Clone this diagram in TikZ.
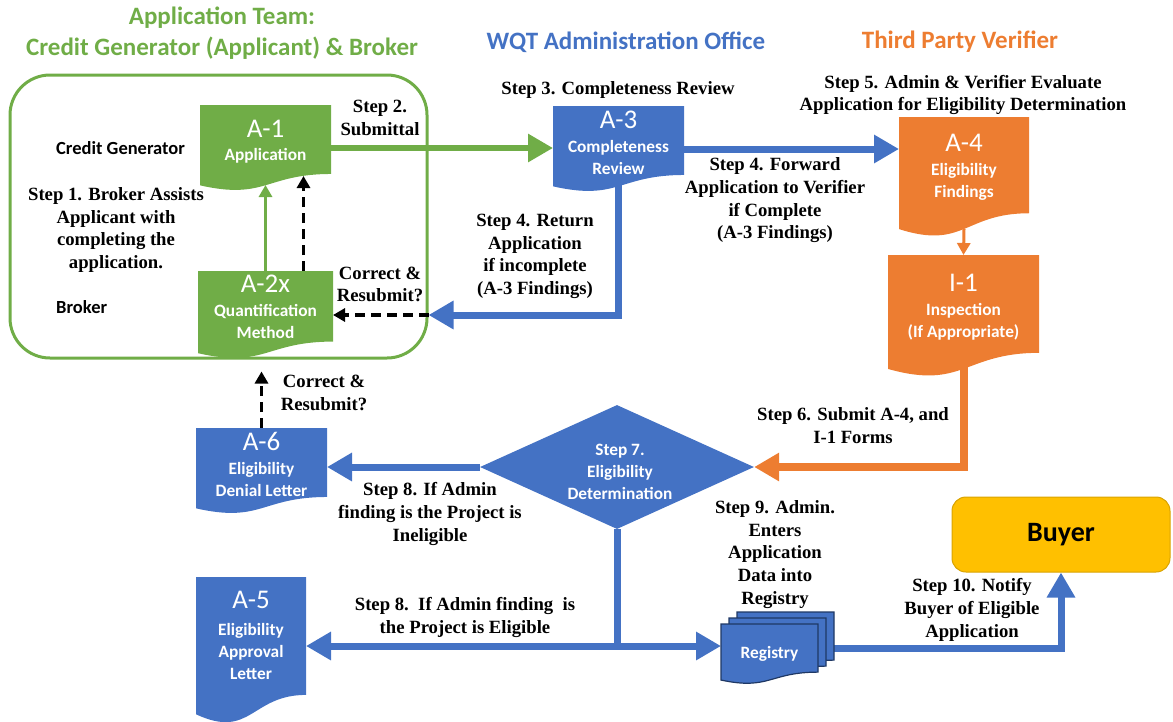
\documentclass[tikz,border=0pt]{standalone}
\usepackage{fontspec}
\setmainfont{Liberation Serif}
\newfontfamily\calib{Carlito}
\usetikzlibrary{arrows.meta,shapes.geometric,calc}
\definecolor{cgreen}{HTML}{70AD47}
\definecolor{cblue}{HTML}{4472C4}
\definecolor{corange}{HTML}{ED7D31}
\definecolor{cyellow}{HTML}{FFC000}
\definecolor{cyeldark}{HTML}{D9A300}
\definecolor{cbluedark}{HTML}{1F3864}
\newcommand\docfill[2]{%
  \path[#2] (#1.north west) -- (#1.north east) -- ($(#1.north east)!0.802!(#1.south east)$)
    .. controls ($(#1.north)!0.802!(#1.south)$) and ($(#1.north)!1.1075!(#1.south)$)
    .. ($(#1.north west)!0.934!(#1.south west)$) -- cycle;}
\tikzset{
  docbox/.style={inner sep=0pt, outer sep=0pt},
  big/.style={font=\calib\fontsize{27}{30}\selectfont, text=white, inner sep=0pt},
  sub/.style={font=\calib\bfseries\fontsize{17.3}{22}\selectfont, text=white, align=center, inner sep=0pt},
  stp/.style={font=\bfseries\fontsize{18.7}{22.7}\selectfont, align=center, inner sep=0pt},
  sans/.style={font=\calib\bfseries\fontsize{18.5}{22}\selectfont, inner sep=0pt},
  ttl/.style={font=\calib\bfseries\fontsize{25}{30}\selectfont, inner sep=0pt},
  fat/.style={line width=7pt, -{Triangle[length=25pt,width=27pt]}},
  thinarr/.style={line width=3pt, -{Triangle[length=12pt,width=13pt]}},
  dasharr/.style={line width=3.5pt, dash pattern=on 10pt off 6pt, -{Triangle[length=12pt,width=13pt]}},
}
\begin{document}
\begin{tikzpicture}[x=1pt,y=-1pt]
\useasboundingbox (0,0) rectangle (1173,721);
% titles
\node[ttl, text=cgreen] (t1) at (222,18) {Application Team:};
\node[ttl, text=cgreen] (t2) at (222,48) {Credit Generator (Applicant) \& Broker};
\node[ttl, text=cblue] (t3) at (626,42) {WQT Administration Office};
\node[ttl, text=corange] (t4) at (960,42) {Third Party Verifier};
% team box
\node[draw=cgreen, line width=3pt, rounded corners=40pt, minimum width=417pt, minimum height=283pt, inner sep=0pt] (team) at (218.5,216.5) {};
% document placeholders
\node[docbox, minimum width=131pt, minimum height=86pt] (a1) at (265.5,148) {};
\node[docbox, minimum width=135pt, minimum height=88pt] (a2) at (265.5,315) {};
\node[docbox, minimum width=131pt, minimum height=86pt] (a3) at (618.5,149) {};
\node[docbox, minimum width=130pt, minimum height=120pt] (a4) at (964,177) {};
\node[docbox, minimum width=151pt, minimum height=122pt] (i1) at (963.5,316) {};
\node[docbox, minimum width=131pt, minimum height=86pt] (a6) at (261.5,471) {};
\node[docbox, minimum width=110pt, minimum height=147pt] (a5) at (251,650.5) {};
\node[docbox, minimum width=97pt, minimum height=60pt] (reg3) at (785.5,642) {};
\node[docbox, minimum width=97pt, minimum height=60pt] (reg2) at (777.5,648) {};
\node[docbox, minimum width=97pt, minimum height=60pt] (reg1) at (769.5,654) {};
\node[diamond, fill=cblue, minimum width=274pt, minimum height=124pt, inner sep=0pt] (dia) at (617,467) {};
\node[draw=cyeldark, line width=1pt, fill=cyellow, rounded corners=14pt, minimum width=218pt, minimum height=75pt, font=\calib\bfseries\fontsize{28}{30}\selectfont] (buyer) at (1061,534.5) {Buyer};
\coordinate (split) at (617,646);
% connectors
\draw[fat, cgreen, line width=6pt] (a1.east) -- (a1.east -| a3.west);
\draw[fat, cblue] (a3.east) -- (a3.east -| a4.west);
\draw[fat, cblue] ($(a3.south)+(0,-8)$) -- (a3.south |- a2.east) -- (team.east |- a2.east);
\draw[dasharr] (team.east |- a2.east) -- (a2.east);
\draw[thinarr, cgreen] (a2.north) -- ($(a1.south)+(0,-6)$);
\draw[dasharr] ($(a2.north)+(38,0)$) -- ($(a1.south)+(38,-15)$);
\draw[thinarr, corange] ($(a4.south)+(0,-8)$) -- (i1.north);
\draw[fat, corange, line width=8pt] ($(i1.south)+(0,-10)$) -- (i1.south |- dia.east) -- (dia.east);
\draw[fat, cblue] (dia.west) -- (dia.west -| a6.east);
\draw[dasharr] (a6.north) -- ($(team.south -| a6.north)+(0,12)$);
\draw[cblue, line width=7pt] (dia.south) -- ($(split)+(0,3.5)$);
\draw[fat, cblue] (split) -- (split -| a5.east);
\draw[fat, cblue] (split) -- (split -| reg1.west);
\draw[fat, cblue] (reg3.east |- reg2.east) -- (buyer.south |- reg2.east) -- (buyer.south);
% document shapes
\docfill{a1}{fill=cgreen}
\docfill{a2}{fill=cgreen}
\docfill{a3}{fill=cblue}
\docfill{a4}{fill=corange}
\docfill{i1}{fill=corange}
\docfill{a6}{fill=cblue}
\docfill{a5}{fill=cblue}
\docfill{reg3}{fill=cblue, draw=cbluedark, line width=1.2pt}
\docfill{reg2}{fill=cblue, draw=cbluedark, line width=1.2pt}
\docfill{reg1}{fill=cblue, draw=cbluedark, line width=1.2pt}
% document labels
\node[big] (a1n) at (265.5,129) {A-1};
\node[sub] (a1s) at (265.5,156) {Application};
\node[big] (a2n) at (265.5,284) {A-2x};
\node[sub] (a2s) at (265.5,321.5) {Quantification\\Method};
\node[big] (a3n) at (618.5,120) {A-3};
\node[sub] (a3s) at (618.5,157.5) {Completeness\\Review};
\node[big] (a4n) at (964,143) {A-4};
\node[sub] (a4s) at (964,182) {Eligibility\\Findings};
\node[big] (i1n) at (963.5,283) {I-1};
\node[sub] (i1s) at (963.5,322) {Inspection\\(If Appropriate)};
\node[big] (a6n) at (261.5,441) {A-6};
\node[sub] (a6s) at (261.5,479) {Eligibility\\Denial Letter};
\node[big] (a5n) at (251,600) {A-5};
\node[sub] (a5s) at (251,651) {Eligibility\\Approval\\Letter};
\node[sub] (regs) at (769.5,654) {Registry};
\node[sub] (dias) at (620,472) {Step 7.\\Eligibility\\Determination};
% side labels
\node[sans, anchor=west] (cg) at (56,148) {Credit Generator};
\node[sans, anchor=west] (br) at (56,307) {Broker};
\node[stp] (s1) at (116,230) {Step 1. Broker Assists\\Applicant with\\completing the\\application.};
\node[stp] (s2) at (380,118) {Step 2.\\Submittal};
\node[stp] (s3) at (618,90) {Step 3. Completeness Review};
\node[stp] (s4f) at (775,200.5) {Step 4. Forward\\Application to Verifier\\if Complete\\(A-3 Findings)};
\node[stp] (s4r) at (535,256.5) {Step 4. Return\\Application\\if incomplete\\(A-3 Findings)};
\node[stp] (cr1) at (380,284.5) {Correct \&\\Resubmit?};
\node[stp] (s5) at (963,95) {Step 5. Admin \& Verifier Evaluate\\Application for Eligibility Determination};
\node[stp] (s6) at (853,425.5) {Step 6. Submit A-4, and\\I-1 Forms};
\node[stp] (cr2) at (324,393) {Correct \&\\Resubmit?};
\node[stp] (s8a) at (430,514) {Step 8. If Admin\\finding is the Project is\\Ineligible};
\node[stp] (s8b) at (465,617.5) {Step 8.\ \ If Admin finding\ \ is\\the Project is Eligible};
\node[stp] (s9) at (775,554.5) {Step 9. Admin.\\Enters\\Application\\Data into\\Registry};
\node[stp] (s10) at (972,610) {Step 10. Notify\\Buyer of Eligible\\Application};
\end{tikzpicture}
\end{document}
